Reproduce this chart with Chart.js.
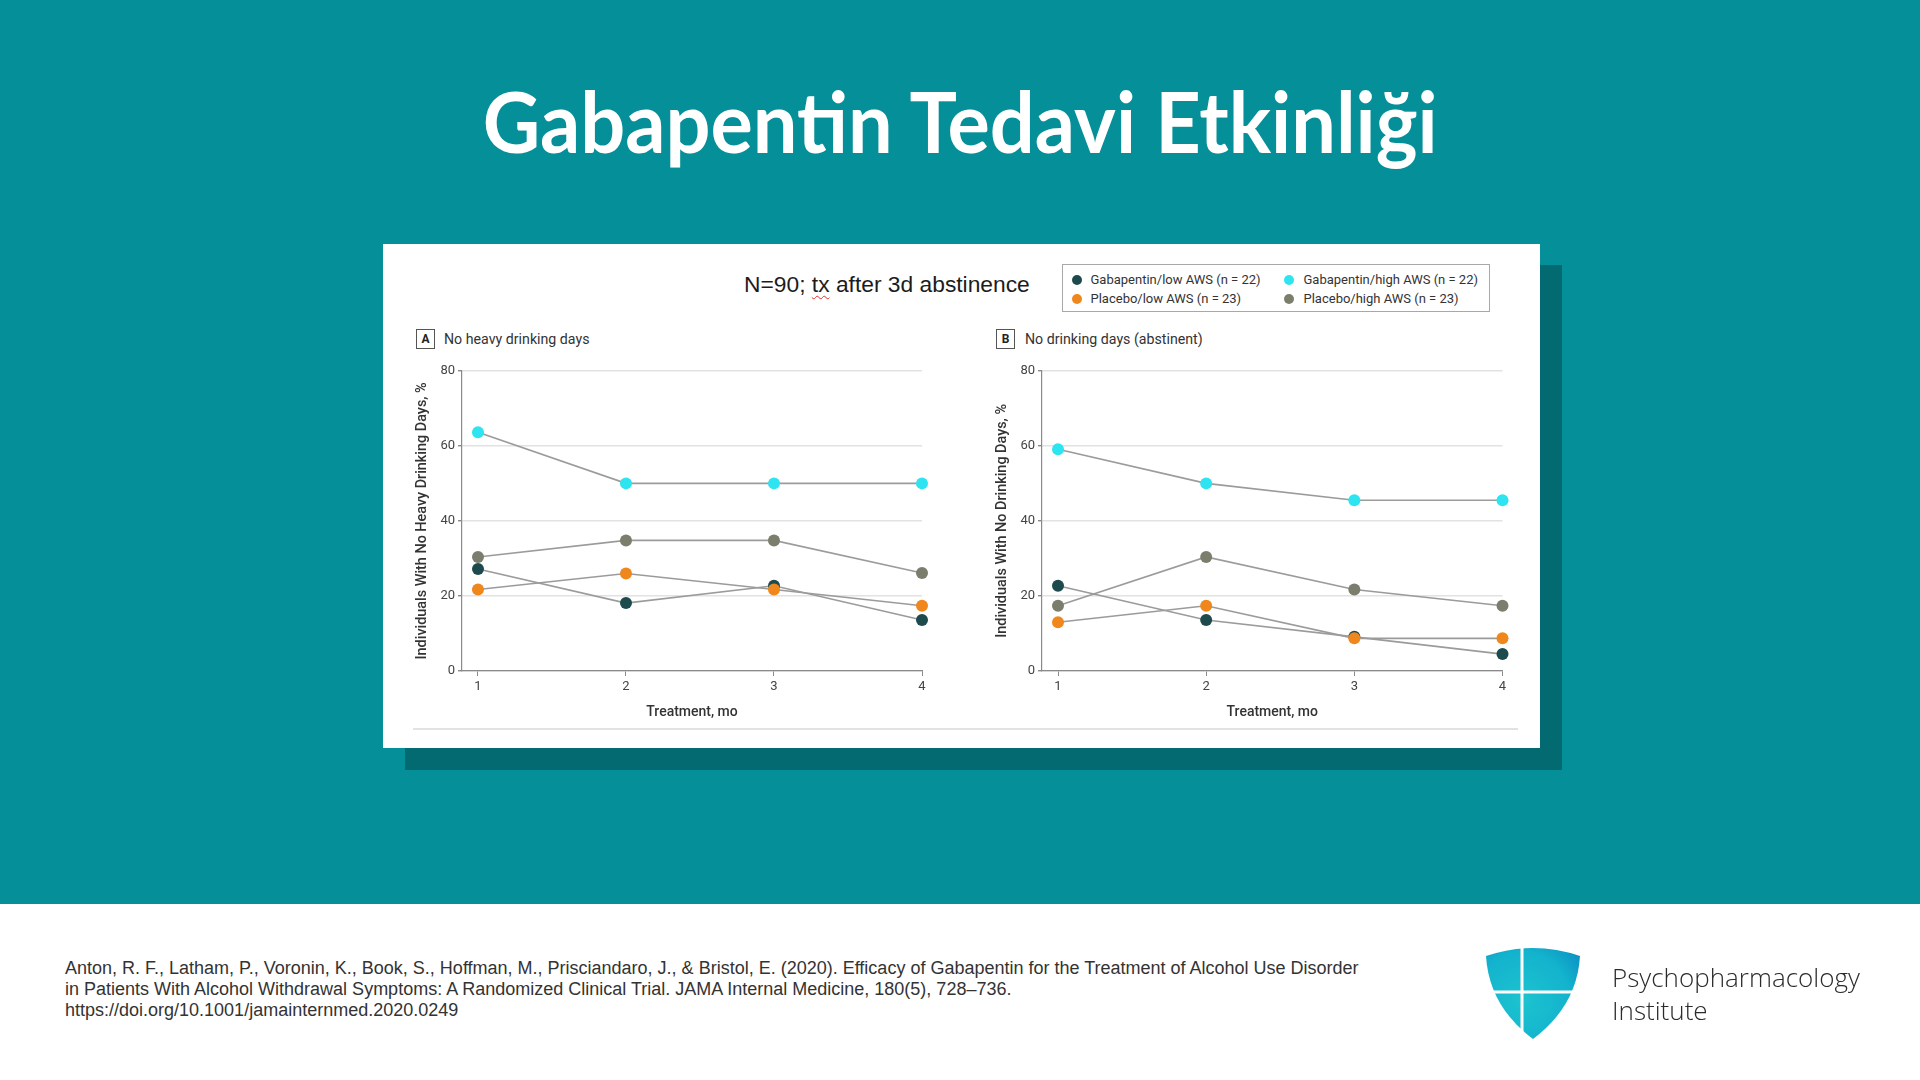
<!DOCTYPE html>
<html>
<head>
<meta charset="utf-8">
<script src="https://cdn.jsdelivr.net/npm/chart.js@4.4.0/dist/chart.umd.min.js"></script>
<style>
  html,body{margin:0;padding:0;}
  body{width:1920px;height:1080px;overflow:hidden;background:#048f99;position:relative;font-family:"Liberation Sans",Arial,sans-serif;}
  .abs{position:absolute;}
  #title{left:0;top:69px;width:1920px;text-align:center;color:#fff;font-family:Lato,sans-serif;font-weight:700;font-size:85px;line-height:102px;white-space:nowrap;}
  #title span{display:inline-block;transform-origin:center;}
  #shadow{left:405px;top:265px;width:1157px;height:505px;background:#036a72;}
  #panel{left:383px;top:244px;width:1157px;height:504px;background:#fff;}
  #sep{left:413px;top:728px;width:1105px;height:2px;background:#e2e2e2;}
  #header{left:744px;top:271px;font-size:22.8px;line-height:26px;color:#1c1c1c;white-space:nowrap;}
  #header .sq{text-decoration:underline wavy #e03030;text-decoration-thickness:1px;text-underline-offset:3px;}
  #legend{left:1062px;top:264px;width:428px;height:48px;border:1.5px solid #a8a8a8;box-sizing:border-box;}
  .litem{position:absolute;font-family:Roboto,sans-serif;font-size:13px;line-height:16px;color:#333;white-space:nowrap;}
  .ldot{position:absolute;width:10px;height:10px;border-radius:50%;}
  .pbox{width:19px;height:20px;border:1px solid #555;box-sizing:border-box;font-family:Roboto,sans-serif;font-weight:700;font-size:12px;line-height:18px;text-align:center;color:#222;}
  .ptitle{font-family:Roboto,sans-serif;font-size:14.2px;line-height:18px;color:#333;white-space:nowrap;}
  .cwrap{position:absolute;}
  #footer{left:0;top:904px;width:1920px;height:176px;background:#fff;}
  #ref{left:65px;top:958px;font-size:18px;line-height:20.8px;color:#333;white-space:nowrap;}
  #logotext{left:1612px;top:961px;font-family:"Open Sans",sans-serif;font-weight:300;font-size:26px;line-height:33px;color:#2b2b2b;white-space:nowrap;}
</style>
</head>
<body>
<div id="title" class="abs"><span id="titleSpan">Gabapentin Tedavi Etkinliği</span></div>
<div id="shadow" class="abs"></div>
<div id="panel" class="abs"></div>
<div id="sep" class="abs"></div>
<div id="header" class="abs">N=90; <span class="sq">tx</span> after 3d abstinence</div>
<div id="legend" class="abs"></div>

<div class="abs pbox" style="left:416px;top:329px;">A</div>
<div class="abs ptitle" style="left:444px;top:330px;">No heavy drinking days</div>
<div class="abs pbox" style="left:996px;top:329px;">B</div>
<div class="abs ptitle" style="left:1025px;top:330px;">No drinking days (abstinent)</div>

<div class="cwrap" style="left:400px;top:360px;width:530px;height:361px;"><canvas id="chartA"></canvas></div>
<div class="cwrap" style="left:980px;top:360px;width:531px;height:361px;"><canvas id="chartB"></canvas></div>

<div id="footer" class="abs"></div>
<div id="ref" class="abs">Anton, R. F., Latham, P., Voronin, K., Book, S., Hoffman, M., Prisciandaro, J., &amp; Bristol, E. (2020). Efficacy of Gabapentin for the Treatment of Alcohol Use Disorder<br>in Patients With Alcohol Withdrawal Symptoms: A Randomized Clinical Trial. JAMA Internal Medicine, 180(5), 728–736.<br>https://doi.org/10.1001/jamainternmed.2020.0249</div>

<svg class="abs" style="left:0;top:0;" width="1920" height="1080">
  <defs>
    <radialGradient id="sg" cx="1522" cy="1000" r="80" gradientUnits="userSpaceOnUse">
      <stop offset="0" stop-color="#1cc3cf"/>
      <stop offset="0.6" stop-color="#13b3cd"/>
      <stop offset="1" stop-color="#0a88c0"/>
    </radialGradient>
  </defs>
  <path d="M1486,956 Q1533,940 1580,956 Q1577,1006 1533,1039 Q1489,1006 1486,956 Z" fill="url(#sg)"/>
  <line x1="1522" y1="940" x2="1522" y2="1045" stroke="#fff" stroke-width="3"/>
  <line x1="1480" y1="992" x2="1590" y2="992" stroke="#fff" stroke-width="3"/>
</svg>
<div id="logotext" class="abs">Psychopharmacology<br>Institute</div>

<script>
// ---------- data ----------
const months = [1, 2, 3, 4];
const yTicks = [0, 20, 40, 60, 80];
const seriesNames = ['Gabapentin/low AWS (n = 22)', 'Placebo/low AWS (n = 23)', 'Gabapentin/high AWS (n = 22)', 'Placebo/high AWS (n = 23)'];
const seriesColors = ['#1d4a4c', '#f0871c', '#2ee4f0', '#7c7e6d'];

// Panel A: No heavy drinking days (%)
const heavyGabLow  = [27.2, 18.1, 22.7, 13.6];
const heavyPlacLow = [21.7, 26.0, 21.7, 17.4];
const heavyGabHigh = [63.6, 50.0, 50.0, 50.0];
const heavyPlacHigh= [30.4, 34.8, 34.8, 26.1];

// Panel B: No drinking days (abstinent) (%)
const abstGabLow   = [22.7, 13.6, 9.1, 4.5];
const abstPlacLow  = [13.0, 17.4, 8.7, 8.7];
const abstGabHigh  = [59.1, 50.0, 45.5, 45.5];
const abstPlacHigh = [17.4, 30.4, 21.7, 17.4];

// ---------- title fit ----------
(function(){
  const s = document.getElementById('titleSpan');
  const w = s.getBoundingClientRect().width;
  s.style.transform = 'scaleX(' + (955 / w) + ')';
})();

// ---------- legend ----------
(function(){
  const lg = document.getElementById('legend');
  const order = [[0, 2], [1, 3]];
  const rowY = [280 - 264, 299 - 264];
  const dotX = [1077.5 - 1062, 1289 - 1062];
  const txtX = [1091 - 1062, 1304 - 1062];
  order.forEach((row, r) => row.forEach((si, c) => {
    const d = document.createElement('div');
    d.className = 'ldot';
    d.style.background = seriesColors[si];
    d.style.left = (dotX[c] - 5 - 1.5) + 'px';
    d.style.top = (rowY[r] - 5 - 1.5) + 'px';
    lg.appendChild(d);
    const t = document.createElement('div');
    t.className = 'litem';
    t.textContent = seriesNames[si];
    t.style.left = (txtX[c] - 1.5) + 'px';
    t.style.top = (rowY[r] - 8 - 1.5) + 'px';
    lg.appendChild(t);
  }));
})();

// ---------- charts ----------
Chart.defaults.font.family = 'Roboto, sans-serif';
Chart.defaults.animation = false;

function makeChart(id, arrays, yTitle, padRight) {
  const drawOrder = [1, 0, 3, 2];
  const datasets = drawOrder.map(si => ({
    label: seriesNames[si],
    data: arrays[si].map((v, i) => ({ x: months[i], y: v })),
    borderColor: '#9b9b9b',
    borderWidth: 1.6,
    pointRadius: 6,
    pointHoverRadius: 6,
    pointBackgroundColor: seriesColors[si],
    pointBorderWidth: 0,
    tension: 0,
    clip: false
  }));
  return new Chart(document.getElementById(id), {
    type: 'line',
    data: { datasets },
    options: {
      responsive: true,
      maintainAspectRatio: false,
      layout: { padding: { top: 10, right: padRight, left: 0, bottom: 0 } },
      plugins: { legend: { display: false }, tooltip: { enabled: false } },
      scales: {
        x: {
          type: 'linear',
          min: 0.892,
          max: 4,
          afterBuildTicks: s => { s.ticks = months.map(v => ({ value: v })); },
          afterFit: s => { s.height = 50; },
          ticks: { color: '#444', font: { size: 13 }, padding: 3, callback: v => String(v) },
          grid: { drawOnChartArea: false, tickLength: 5, tickColor: '#8a8a8a', lineWidth: 1 },
          border: { color: '#8a8a8a', width: 1.2 },
          title: { display: true, text: 'Treatment, mo', color: '#333', font: { size: 14, weight: 500 }, padding: { top: 3.6, bottom: 0 } }
        },
        y: {
          min: 0,
          max: 80,
          afterBuildTicks: s => { s.ticks = yTicks.map(v => ({ value: v })); },
          afterFit: s => { s.width = 62; },
          ticks: { color: '#444', font: { size: 13 }, padding: 3 },
          grid: { color: '#e2e2e2', lineWidth: 1.4, tickLength: 4, tickColor: '#8a8a8a' },
          border: { color: '#8a8a8a', width: 1.2 },
          title: { display: true, text: yTitle, color: '#333', font: { size: 14.4, weight: 500 }, padding: { top: 14, bottom: 0 } }
        }
      }
    }
  });
}

makeChart('chartA', [heavyGabLow, heavyPlacLow, heavyGabHigh, heavyPlacHigh], 'Individuals With No Heavy Drinking Days, %', 8);
makeChart('chartB', [abstGabLow, abstPlacLow, abstGabHigh, abstPlacHigh], 'Individuals With No Drinking Days, %', 8.5);
</script>
</body>
</html>
